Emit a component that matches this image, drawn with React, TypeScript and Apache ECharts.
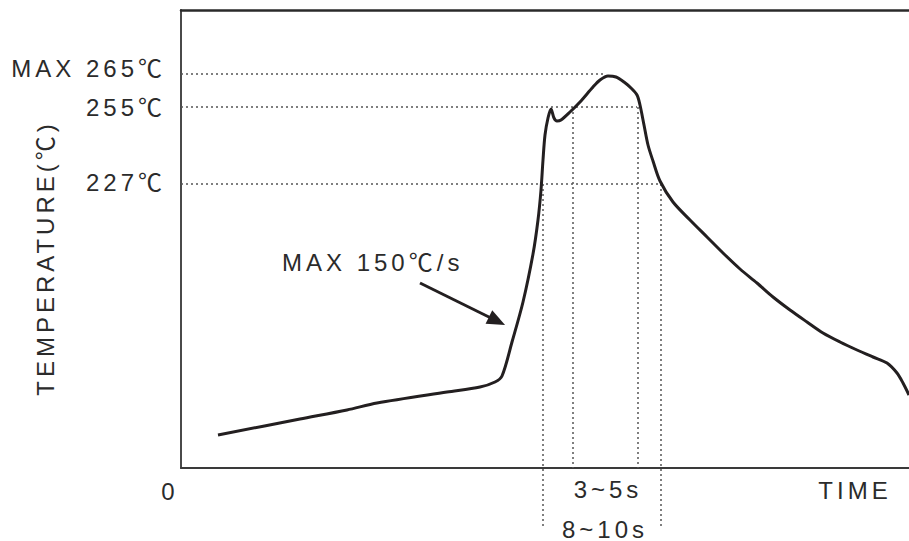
import React, { useEffect, useRef } from "react";
import * as echarts from "echarts";

// Axis ranges (arbitrary units)
const timeRange = [0, 728];
const tempRange = [0, 458];

// Temperature profile curve
const profileTime = [37, 119, 166, 196, 266, 299, 314, 321, 331, 342, 352, 357, 360, 362, 364, 367, 370, 373, 376, 380, 389, 399, 412, 419, 427, 435, 443, 450, 456, 459, 463, 467, 472, 479, 492, 509, 526, 542, 559, 576, 592, 609, 626, 642, 659, 676, 692, 706, 716, 722, 728];
const profileTemp = [33, 49, 58, 65, 76, 81, 86, 92, 126, 166, 214, 248, 278, 308, 333, 350, 359, 350, 347, 348, 356, 366, 381, 388, 392, 391, 386, 380, 373, 363, 343, 323, 307, 287, 266, 248, 231, 215, 199, 185, 171, 158, 146, 135, 126, 118, 111, 105, 95, 85, 73];

// Reference temperature levels
const levelNames = ["MAX 265℃", "255℃", "227℃"];
const levelValues = [394, 361, 284];
const levelEnds = [424, 456, 480];

// Vertical time markers
const markerTimes = [362, 392, 457, 480];
const markerTops = [284, 361, 361, 284];
const markerBottoms = [-58, 0, 0, -59];

// Texts
const intervalLabels = ["3~5s", "8~10s"];
const rateLabel = "MAX 150℃/s";
const xAxisName = "TIME";
const yAxisName = "TEMPERATURE(℃)";
const originLabel = "0";

// Arrow (start -> end) pointing at the ramp
const arrowFrom = [239, 185];
const arrowTo = [316, 147];

const FONT = "'Liberation Sans', 'Noto Sans CJK KR', sans-serif";
const FONT_SIZE = 24;
const TEXT_COLOR = "#2b2b2b";
const LINE_COLOR = "#231f20";
const DOT_COLOR = "#555555";

export default function App() {
  const ref = useRef<HTMLDivElement>(null);

  useEffect(() => {
    if (!ref.current) return;
    const chart = echarts.init(ref.current, undefined, { renderer: "svg" });

    const levelOffsets = [-6, 0, -2];
    const levelSeries = levelNames.map((name, i) => ({
      type: "line",
      name: "level-" + i,
      clip: false,
      silent: true,
      symbol: "circle",
      symbolSize: 0,
      showSymbol: true,
      lineStyle: { color: DOT_COLOR, width: 1.5, type: [2, 3] },
      itemStyle: { color: DOT_COLOR },
      data: [
        {
          value: [timeRange[0], levelValues[i]],
          label: {
            show: true,
            position: "left",
            distance: 15,
            offset: [0, levelOffsets[i]],
            formatter: name,
            fontSize: FONT_SIZE,
            fontFamily: FONT,
            color: TEXT_COLOR,
          },
        },
        { value: [levelEnds[i], levelValues[i]], label: { show: false } },
      ],
      z: 1,
    }));

    const markerSeries = markerTimes.map((t, i) => ({
      type: "line",
      name: "marker-" + i,
      clip: false,
      silent: true,
      symbol: "none",
      lineStyle: { color: DOT_COLOR, width: 1.5, type: [2, 3] },
      data: [
        [t, markerTops[i]],
        [t, markerBottoms[i]],
      ],
      z: 1,
    }));

    const textStyle = (text: string) => ({
      text,
      fill: TEXT_COLOR,
      fontSize: FONT_SIZE,
      fontFamily: FONT,
    });

    chart.setOption({
      animation: false,
      grid: { left: 181, top: 10, right: 0, bottom: 73, containLabel: false },
      xAxis: [
        {
          type: "value",
          min: timeRange[0],
          max: timeRange[1],
          axisLine: { show: true, lineStyle: { color: "#3a3a3a", width: 2 } },
          axisTick: { show: false },
          axisLabel: { show: false },
          splitLine: { show: false },
        },
        {
          type: "value",
          position: "top",
          min: timeRange[0],
          max: timeRange[1],
          axisLine: { show: true, onZero: false, lineStyle: { color: "#2a2a2a", width: 2.5 } },
          axisTick: { show: false },
          axisLabel: { show: false },
          splitLine: { show: false },
        },
      ],
      yAxis: {
        type: "value",
        min: tempRange[0],
        max: tempRange[1],
        axisLine: { show: true, lineStyle: { color: "#4a4a4a", width: 2 } },
        axisTick: { show: false },
        axisLabel: { show: false },
        splitLine: { show: false },
      },
      series: [
        ...levelSeries,
        ...markerSeries,
        {
          type: "line",
          name: "arrow",
          silent: true,
          clip: false,
          symbol: "none",
          lineStyle: { opacity: 0 },
          data: [arrowFrom, arrowTo],
          markLine: {
            silent: true,
            symbol: ["none", "triangle"],
            symbolSize: [15, 18],
            label: { show: false },
            lineStyle: { color: LINE_COLOR, width: 3, type: "solid" },
            data: [[{ coord: arrowFrom }, { coord: arrowTo }]],
          },
          z: 3,
        },
        {
          type: "line",
          name: "profile",
          silent: true,
          smooth: 0.3,
          symbol: "none",
          clip: false,
          lineStyle: { color: LINE_COLOR, width: 3 },
          data: profileTime.map((t, i) => [t, profileTemp[i]]),
          z: 4,
        },
      ],
      graphic: [
        { type: "text", x: 282, y: 262, style: { ...textStyle(rateLabel), align: "left", verticalAlign: "middle" } },
        { type: "text", x: 170, y: 491, style: { ...textStyle(originLabel), align: "center", verticalAlign: "middle" } },
        { type: "text", x: 608, y: 489, style: { ...textStyle(intervalLabels[0]), align: "center", verticalAlign: "middle" } },
        { type: "text", x: 605, y: 529, style: { ...textStyle(intervalLabels[1]), align: "center", verticalAlign: "middle" } },
        { type: "text", x: 855, y: 490, style: { ...textStyle(xAxisName), align: "center", verticalAlign: "middle" } },
        {
          type: "text",
          x: 45,
          y: 258,
          rotation: Math.PI / 2,
          style: { ...textStyle(yAxisName), align: "center", verticalAlign: "middle" },
        },
      ],
    });

    return () => chart.dispose();
  }, []);

  return (
    <>
      <style>{`#chart-root text { letter-spacing: 4px; }`}</style>
      <div
        id="chart-root"
        ref={ref}
        style={{ position: "fixed", left: 0, top: 0, width: 909, height: 541, background: "#fff" }}
      />
    </>
  );
}
